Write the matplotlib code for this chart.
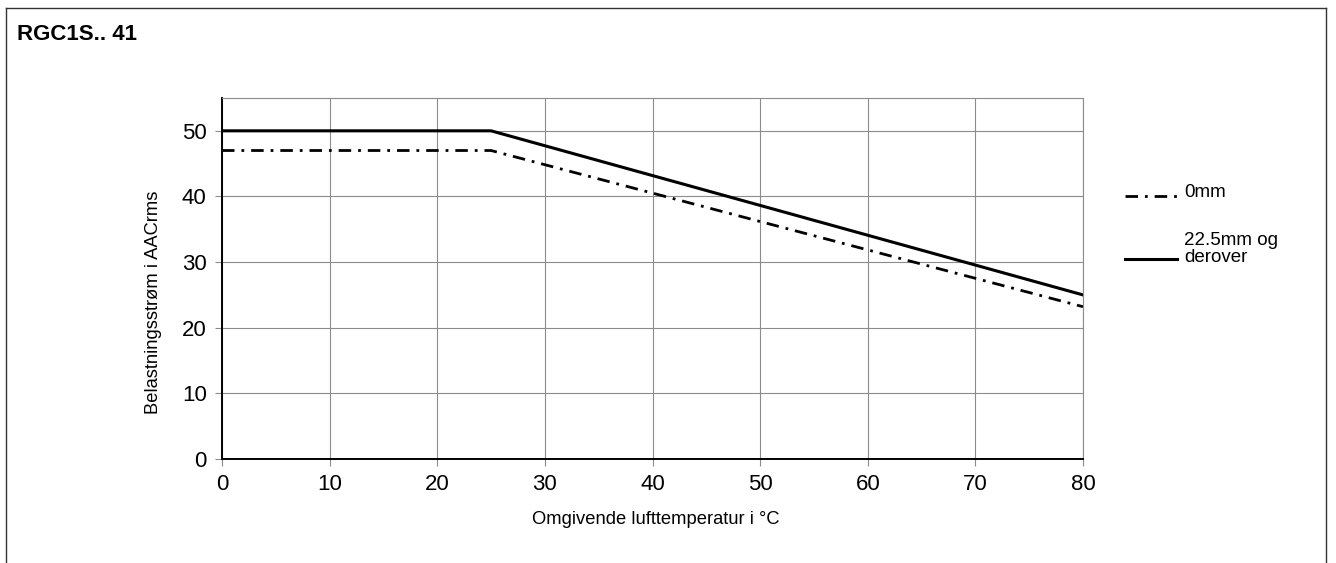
import matplotlib
matplotlib.use("Agg")
import matplotlib.pyplot as plt
from matplotlib.lines import Line2D

plt.rcParams['font.family'] = ['Liberation Sans', 'DejaVu Sans']

# derating curves
temp = [0, 25, 80]
current_0mm = [47, 47, 23.2]
current_22mm = [50, 50, 25]
x_ticks = [0, 10, 20, 30, 40, 50, 60, 70, 80]
y_ticks = [0, 10, 20, 30, 40, 50]

W, H = 1336, 563
fig = plt.figure(figsize=(W / 100, H / 100), dpi=100)

# pixel -> figure fraction
fx = lambda px: px / W
fy = lambda py: 1 - py / H

# frame around the figure (bottom is cut off)
fig.add_artist(Line2D([fx(5.5), fx(5.5)], [0, fy(8)], color='#333333', lw=1.0))
fig.add_artist(Line2D([fx(5.5), fx(1325.5)], [fy(8), fy(8)], color='#333333', lw=1.0))
fig.add_artist(Line2D([fx(1325.5), fx(1325.5)], [fy(8), 0], color='#333333', lw=1.0))

fig.text(fx(17), fy(35), 'RGC1S.. 41', fontsize=16, fontweight='bold', va='center', ha='left')

ax = fig.add_axes([222 / W, 1 - 459 / H, (1083 - 222) / W, (459 - 98) / H])

dashdot = (0, (4.5, 2.5, 1.0, 2.5))
ax.plot(temp, current_0mm, color='black', lw=2.0, linestyle=dashdot)
ax.plot(temp, current_22mm, color='black', lw=2.2, solid_joinstyle='miter')

ax.set_xlim(0, 80)
ax.set_ylim(0, 55)
ax.set_xticks(x_ticks)
ax.set_yticks(y_ticks)
ax.grid(True, color='#8c8c8c', lw=0.8)
ax.set_axisbelow(True)
for side in ['top', 'right']:
    ax.spines[side].set_color('#8c8c8c')
    ax.spines[side].set_linewidth(0.8)
for side in ['left', 'bottom']:
    ax.spines[side].set_color('black')
    ax.spines[side].set_linewidth(1.4)
ax.tick_params(direction='out', length=5, width=0.8, color='#8c8c8c', labelsize=16, pad=6)

ax.set_xlabel('Omgivende lufttemperatur i °C', fontsize=13.2, va='center')
ax.set_ylabel('Belastningsstrøm i AACrms', fontsize=13.2, va='center')
ax.xaxis.set_label_coords(0.504, (459 - 519) / 361)
ax.yaxis.set_label_coords((153 - 222) / 861, 0.435)

# legend drawn outside the axes
fig.add_artist(Line2D([fx(1125), fx(1177)], [fy(196), fy(196)], color='black', lw=2.0,
                      linestyle=dashdot))
fig.add_artist(Line2D([fx(1125), fx(1177)], [fy(259), fy(259)], color='black', lw=2.2))
fig.text(fx(1184), fy(192), '0mm', fontsize=13.5, va='center', ha='left')
fig.text(fx(1184), fy(249), '22.5mm og\nderover', fontsize=13.5, va='center', ha='left',
         linespacing=0.95)

fig.savefig('out.png', dpi=100)
